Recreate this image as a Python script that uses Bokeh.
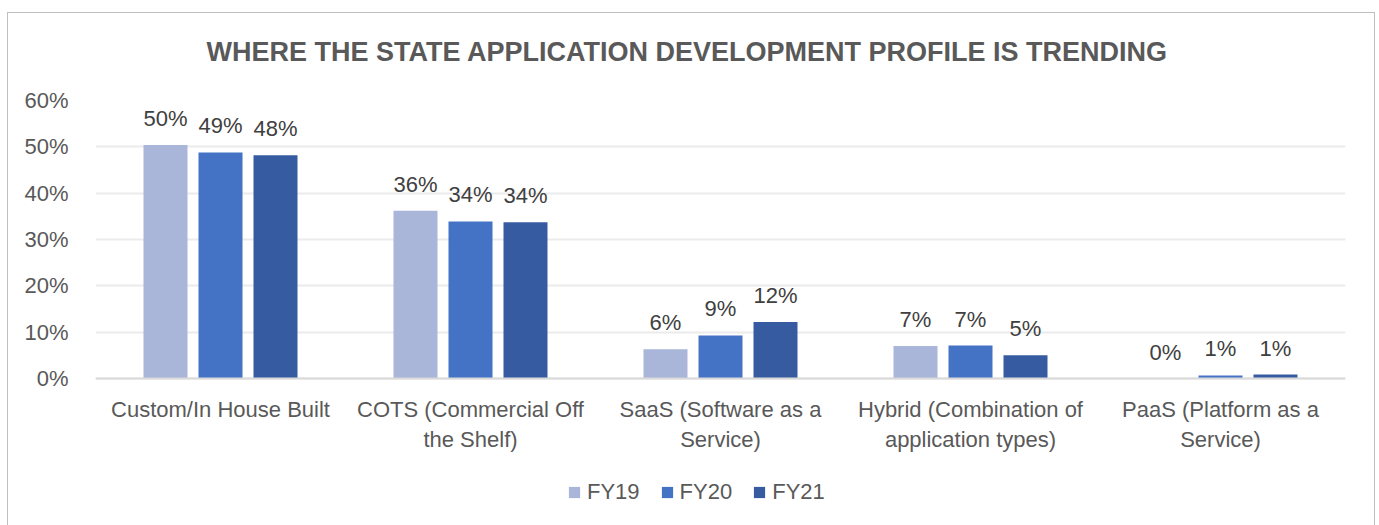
from bokeh.plotting import figure
from bokeh.models import (ColumnDataSource, FactorRange, LabelSet, Legend, LegendItem,
                          NumeralTickFormatter, FixedTicker, Range1d)
from bokeh.transform import dodge
from bokeh.core.properties import value
from bokeh.embed import file_html
from bokeh.resources import INLINE

categories = ["Custom/In House Built", "COTS (Commercial Off\nthe Shelf)",
              "SaaS (Software as a\nService)", "Hybrid (Combination of\napplication types)",
              "PaaS (Platform as a\nService)"]
series = ["FY19", "FY20", "FY21"]
fy19 = [50.4, 36.2, 6.3, 7.0, 0.0]
fy20 = [48.8, 33.9, 9.3, 7.1, 0.65]
fy21 = [48.2, 33.7, 12.2, 5.0, 0.86]
y_ticks = [0, 10, 20, 30, 40, 50, 60]
colors = ["#A9B5D9", "#4472C4", "#365BA1"]

FONT = "Liberation Sans"
TXT = "#595959"

data = {"cat": categories}
for name, vals in zip(series, [fy19, fy20, fy21]):
    data[name] = [v / 100 for v in vals]
    data[name + "_lbl"] = ["%d%%" % round(v) for v in vals]
src = ColumnDataSource(data)

# plot area: 278 px for 0..60 %, plus 147 px below the zero line for category labels and legend
PLOT_H, BELOW_H = 278, 147
y_top = max(y_ticks) / 100
y_bottom = -y_top * BELOW_H / PLOT_H

p = figure(x_range=FactorRange(factors=categories, range_padding=0, factor_padding=0),
           y_range=Range1d(y_bottom, y_top), frame_width=1250, frame_height=PLOT_H + BELOW_H,
           output_backend="svg", toolbar_location=None,
           min_border_left=88, min_border_right=30, min_border_top=100, min_border_bottom=0)
LINE = "linear-gradient(#BFBFBF, #BFBFBF)"
p.styles = {
    "margin-left": "7px",
    "background": (f"{LINE} left 0 top 12px / 100% 1px no-repeat, "
                   f"{LINE} left 0 top 12px / 1px 100% no-repeat, "
                   f"{LINE} right 0 top 12px / 1px 100% no-repeat, white"),
}
p.border_fill_color = None
p.background_fill_color = None

p.title.text = "WHERE THE STATE APPLICATION DEVELOPMENT PROFILE IS TRENDING"
p.title.align = "left"
p.title.vertical_align = "top"
p.title.text_font = FONT
p.title.text_font_size = "27px"
p.title.text_font_style = "bold"
p.title.text_color = TXT
p.title.standoff = 64
p.title.offset = 111

offsets = [-0.22, 0.0, 0.22]
items = []
for name, off, col in zip(series, offsets, colors):
    r = p.vbar(x=dodge("cat", off, range=p.x_range), top=name, width=0.176, source=src,
               fill_color=col, line_color=None)
    items.append(LegendItem(label=name, renderers=[r]))
    lbl = LabelSet(x=dodge("cat", off, range=p.x_range), y=name, text=name + "_lbl", source=src,
                   text_align="center", text_baseline="bottom", y_offset=14,
                   text_font=value(FONT), text_font_size="22px", text_color="#404040")
    p.add_layout(lbl)

legend = Legend(items=items, orientation="horizontal", location=(472, 20),
                glyph_width=14, glyph_height=14, label_text_font=FONT,
                label_text_font_size="22px", label_text_color=TXT, label_standoff=6,
                spacing=20, padding=0, margin=0, border_line_color=None,
                background_fill_alpha=0)
p.add_layout(legend, "center")

p.yaxis.ticker = FixedTicker(ticks=[t / 100 for t in y_ticks])
p.yaxis.formatter = NumeralTickFormatter(format="0%")
p.yaxis.axis_line_color = None
p.yaxis.major_tick_line_color = None
p.yaxis.minor_tick_line_color = None
p.yaxis.major_label_text_font = FONT
p.yaxis.major_label_text_font_size = "22px"
p.yaxis.major_label_text_color = TXT
p.yaxis.major_label_standoff = 21

p.xaxis.fixed_location = 0
p.xaxis.axis_line_color = "#D9D9D9"
p.xaxis.axis_line_width = 2
p.xaxis.major_tick_line_color = None
p.xaxis.major_label_text_font = FONT
p.xaxis.major_label_text_font_size = "22px"
p.xaxis.major_label_text_color = TXT
p.xaxis.major_label_standoff = 12

p.xgrid.grid_line_color = None
p.ygrid.grid_line_color = "#EBEBEB"
p.ygrid.grid_line_width = 2
p.outline_line_color = None

open("out.html", "w").write(file_html(p, INLINE))
